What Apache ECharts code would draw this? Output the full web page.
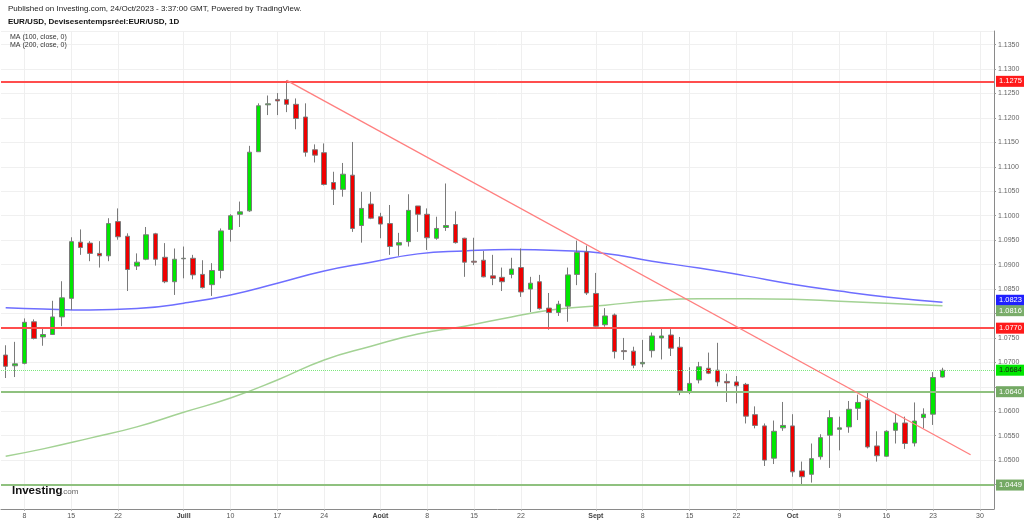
<!DOCTYPE html>
<html>
<head>
<meta charset="utf-8">
<title>EUR/USD 1D</title>
<script src="https://cdn.jsdelivr.net/npm/echarts@6/dist/echarts.min.js"></script>
<style>
  html, body { margin: 0; padding: 0; background: #fff; }
  #chart { width: 1024px; height: 526px; }
</style>
</head>
<body>
<div id="chart"></div>
<script>
// séances (jours ouvrés) + quelques jours vides à droite
const dates = [
  '2023-06-06','2023-06-07','2023-06-08','2023-06-09','2023-06-12','2023-06-13','2023-06-14','2023-06-15','2023-06-16',
  '2023-06-19','2023-06-20','2023-06-21','2023-06-22','2023-06-23','2023-06-26','2023-06-27','2023-06-28','2023-06-29','2023-06-30',
  '2023-07-03','2023-07-04','2023-07-05','2023-07-06','2023-07-07','2023-07-10','2023-07-11','2023-07-12','2023-07-13','2023-07-14',
  '2023-07-17','2023-07-18','2023-07-19','2023-07-20','2023-07-21','2023-07-24','2023-07-25','2023-07-26','2023-07-27','2023-07-28',
  '2023-07-31','2023-08-01','2023-08-02','2023-08-03','2023-08-04','2023-08-07','2023-08-08','2023-08-09','2023-08-10','2023-08-11',
  '2023-08-14','2023-08-15','2023-08-16','2023-08-17','2023-08-18','2023-08-21','2023-08-22','2023-08-23','2023-08-24','2023-08-25',
  '2023-08-28','2023-08-29','2023-08-30','2023-08-31','2023-09-01','2023-09-04','2023-09-05','2023-09-06','2023-09-07','2023-09-08',
  '2023-09-11','2023-09-12','2023-09-13','2023-09-14','2023-09-15','2023-09-18','2023-09-19','2023-09-20','2023-09-21','2023-09-22',
  '2023-09-25','2023-09-26','2023-09-27','2023-09-28','2023-09-29','2023-10-02','2023-10-03','2023-10-04','2023-10-05','2023-10-06',
  '2023-10-09','2023-10-10','2023-10-11','2023-10-12','2023-10-13','2023-10-16','2023-10-17','2023-10-18','2023-10-19','2023-10-20',
  '2023-10-23','2023-10-24'
];
const futureDates = ['2023-10-25','2023-10-26','2023-10-27','2023-10-30','2023-10-31'];

const opens = [
  1.0715,1.0693,1.0698,1.0783,1.0752,1.0757,1.0793,1.0831,1.0946,1.0944,1.0923,1.0918,1.0988,1.0958,1.0897,1.0911,1.0963,1.0915,1.0865,
  1.0912,1.0913,1.0880,1.0859,1.0888,1.0972,1.1003,1.1010,1.1131,1.1227,1.1238,1.1238,1.1228,1.1202,1.1135,1.1129,1.1068,1.1054,1.1083,1.0980,1.1024,
  1.0998,1.0984,1.0940,1.0947,1.1020,1.1003,1.0954,1.0976,1.0982,1.0954,1.0907,1.0909,1.0877,1.0874,1.0880,1.0894,1.0850,1.0865,1.0811,1.0802,1.0815,1.0880,1.0926,
  1.0841,1.0777,1.0797,1.0724,1.0723,1.0697,1.0724,1.0750,1.0756,1.0731,1.0640,1.0664,1.0688,1.0684,1.0661,1.0660,1.0655,1.0593,1.0570,1.0504,1.0566,
  1.0570,1.0478,1.0471,1.0507,1.0551,1.0563,1.0568,1.0606,1.0623,1.0529,1.0508,1.0561,1.0576,1.0535,1.0587,1.0594,1.0670
];
const closes = [
  1.0692,1.0697,1.0782,1.0749,1.0757,1.0793,1.0832,1.0947,1.0935,1.0923,1.0918,1.0984,1.0957,1.0890,1.0905,1.0961,1.0911,1.0865,1.0911,
  1.0913,1.0879,1.0853,1.0888,1.0969,1.1000,1.1008,1.1130,1.1225,1.1229,1.1235,1.1228,1.1199,1.1130,1.1124,1.1064,1.1054,1.1085,1.0974,1.1015,1.0995,
  1.0983,1.0937,1.0945,1.1011,1.1003,1.0955,1.0974,1.0980,1.0945,1.0905,1.0905,1.0875,1.0872,1.0865,1.0891,1.0844,1.0862,1.0810,1.0802,1.0819,1.0879,1.0925,1.0842,
  1.0774,1.0795,1.0722,1.0722,1.0694,1.0700,1.0754,1.0754,1.0729,1.0642,1.0657,1.0691,1.0678,1.0660,1.0658,1.0652,1.0590,1.0571,1.0500,1.0559,1.0571,
  1.0476,1.0466,1.0503,1.0546,1.0587,1.0566,1.0604,1.0618,1.0527,1.0509,1.0559,1.0576,1.0534,1.0580,1.0594,1.0669,1.0684
];
const lows = [
  1.0668,1.0670,1.0696,1.0747,1.0734,1.0756,1.0774,1.0807,1.0920,1.0907,1.0894,1.0907,1.0951,1.0846,1.0889,1.0909,1.0898,1.0862,1.0838,
  1.0872,1.0870,1.0851,1.0836,1.0872,1.0947,1.0977,1.1008,1.1131,1.1206,1.1206,1.1212,1.1177,1.1121,1.1109,1.1062,1.1022,1.1039,1.0967,1.0945,1.0993,
  1.0954,1.0920,1.0918,1.0937,1.0967,1.0930,1.0951,1.0969,1.0943,1.0875,1.0899,1.0874,1.0858,1.0846,1.0872,1.0834,1.0803,1.0808,1.0767,1.0795,1.0783,1.0858,1.0838,
  1.0773,1.0773,1.0708,1.0705,1.0688,1.0690,1.0710,1.0706,1.0713,1.0633,1.0635,1.0657,1.0676,1.0651,1.0619,1.0616,1.0575,1.0565,1.0488,1.0492,1.0560,
  1.0466,1.0451,1.0454,1.0501,1.0484,1.0520,1.0556,1.0582,1.0524,1.0497,1.0507,1.0534,1.0523,1.0528,1.0565,1.0572,1.0669
];
const highs = [
  1.0735,1.0742,1.0790,1.0788,1.0770,1.0826,1.0866,1.0956,1.0972,1.0948,1.0948,1.0995,1.1015,1.0964,1.0923,1.0977,1.0965,1.0944,1.0933,
  1.0937,1.0920,1.0909,1.0903,1.0974,1.1003,1.1029,1.1143,1.1230,1.1246,1.1251,1.1277,1.1240,1.1230,1.1146,1.1148,1.1090,1.1108,1.1151,1.1049,1.1049,
  1.1006,1.1022,1.0965,1.1044,1.1020,1.1015,1.0998,1.1066,1.1009,1.0955,1.0955,1.0928,1.0920,1.0894,1.0914,1.0933,1.0875,1.0879,1.0842,1.0826,1.0894,1.0949,1.0939,
  1.0883,1.0811,1.0800,1.0750,1.0732,1.0746,1.0761,1.0772,1.0768,1.0752,1.0690,1.0701,1.0720,1.0740,1.0677,1.0672,1.0658,1.0610,1.0575,1.0581,1.0619,
  1.0594,1.0497,1.0534,1.0553,1.0602,1.0589,1.0621,1.0634,1.0641,1.0559,1.0561,1.0595,1.0589,1.0618,1.0606,1.0680,1.0689
];

// moyennes mobiles relevées chaque semaine
const maDates = ['2023-06-06','2023-06-12','2023-06-19','2023-06-26','2023-07-03','2023-07-10','2023-07-17','2023-07-24','2023-07-31',
  '2023-08-07','2023-08-14','2023-08-21','2023-08-28','2023-09-04','2023-09-11','2023-09-18','2023-09-25','2023-10-02','2023-10-09',
  '2023-10-16','2023-10-24'];
const ma100 = [1.0812,1.0809,1.0807,1.0810,1.0821,1.0838,1.0862,1.0887,1.0905,1.0922,1.0928,1.0931,1.0929,1.0923,1.0907,
  1.0893,1.0877,1.0860,1.0846,1.0834,1.0823];
const ma200 = [1.0508,1.0523,1.0545,1.0568,1.0598,1.0627,1.0664,1.0705,1.0733,1.0758,1.0774,1.0793,1.0809,1.0817,1.0826,
  1.0830,1.0830,1.0829,1.0825,1.0821,1.0816];

// niveaux horizontaux et ligne de tendance
const redLevels = [1.1275, 1.0770];
const greenLevels = [1.0640, 1.0449];
const trendStart = ['2023-07-18', 1.1277];
const trendEnd = ['2023-10-27', 1.0511];

// étiquettes de l'axe du temps
const tickDates = ['2023-06-08','2023-06-15','2023-06-22','2023-07-03','2023-07-10','2023-07-17','2023-07-24','2023-08-01',
  '2023-08-08','2023-08-15','2023-08-22','2023-09-01','2023-09-08','2023-09-15','2023-09-22','2023-10-02','2023-10-09',
  '2023-10-16','2023-10-23','2023-10-30'];
const tickLabels = ['8','15','22','Juill','10','17','24','Août','8','15','22','Sept','8','15','22','Oct','9','16','23','30'];
const monthLabels = ['Juill','Août','Sept','Oct'];

const FONT = 'Arial, "Liberation Sans", sans-serif';
const chart = echarts.init(document.getElementById('chart'));

const allDates = dates.concat(futureDates);
const candles = dates.map((d, i) => [opens[i], closes[i], lows[i], highs[i]]);
const lastPrice = closes[closes.length - 1];
const isTick = (idx, val) => tickDates.indexOf(val) !== -1;

// les graduations cachées derrière une étiquette de niveau ne sont pas écrites
const boxedValues = redLevels.concat(greenLevels, [lastPrice, ma100[ma100.length - 1], ma200[ma200.length - 1]]);
const hiddenByBox = v => boxedValues.some(b => Math.abs(b - v) < 0.0013);

const boxLabel = (bg, fg, offsetY) => ({
  show: true,
  position: 'end',
  distance: 2,
  offset: [0, offsetY || 0],
  formatter: p => Number(p.value).toFixed(4),
  color: fg,
  backgroundColor: bg,
  fontFamily: FONT,
  fontSize: 7.5,
  padding: [2, 3, 1, 3]
});

const levelLines = [];
redLevels.forEach(v => levelLines.push({
  yAxis: v, lineStyle: { color: '#ff4d4d', width: 2, type: 'solid' }, label: boxLabel('#ff1a1a', '#fff')
}));
greenLevels.forEach(v => levelLines.push({
  yAxis: v, lineStyle: { color: '#8fc17f', width: 2, type: 'solid' }, label: boxLabel('#74a964', '#fff')
}));
levelLines.push({
  yAxis: lastPrice, lineStyle: { color: '#7de87d', width: 1, type: 'dotted' }, label: boxLabel('#00e600', '#1a1a1a')
});
levelLines.push({
  yAxis: ma100[ma100.length - 1], lineStyle: { color: 'transparent', width: 0 }, label: boxLabel('#2020ff', '#fff', -2)
});
levelLines.push({
  yAxis: ma200[ma200.length - 1], lineStyle: { color: 'transparent', width: 0 }, label: boxLabel('#7aad6a', '#fff', 5)
});
levelLines.push([
  { coord: trendStart, lineStyle: { color: '#ff7f7f', width: 1.3, type: 'solid' }, label: { show: false } },
  { coord: trendEnd }
]);

// lignes verticales de la grille, centrées sur les dates affichées
const gridLines = tickDates.map(d => ({ xAxis: d }));

const option = {
  animation: false,
  backgroundColor: '#fff',
  textStyle: { fontFamily: FONT },
  grid: { left: 1, right: 30, top: 31, bottom: 17 },
  graphic: [
    { type: 'text', left: 8, top: 5, z: 10, style: { text: 'Published on Investing.com, 24/Oct/2023 - 3:37:00 GMT, Powered by TradingView.', font: '8px ' + FONT, fill: '#222' } },
    { type: 'text', left: 8, top: 18, z: 10, style: { text: 'EUR/USD, Devisesentempsréel:EUR/USD, 1D', font: 'bold 8px ' + FONT, fill: '#111' } },
    { type: 'text', left: 10, top: 34, z: 10, style: { text: 'MA (100, close, 0)', font: '7px ' + FONT, fill: '#333' } },
    { type: 'text', left: 10, top: 41.5, z: 10, style: { text: 'MA (200, close, 0)', font: '7px ' + FONT, fill: '#333' } },
    { type: 'text', left: 12, top: 485, z: 10, style: { text: 'Investing', font: 'bold 11.5px ' + FONT, fill: '#111' } },
    { type: 'text', left: 61, top: 488, z: 10, style: { text: '.com', font: '8px ' + FONT, fill: '#666' } }
  ],
  xAxis: {
    type: 'category',
    data: allDates,
    boundaryGap: true,
    axisLine: { lineStyle: { color: '#8a8a8a', width: 1 } },
    axisTick: { show: true, interval: isTick, alignWithLabel: true, length: 2, lineStyle: { color: '#aaa' } },
    axisLabel: {
      interval: isTick,
      margin: 4,
      fontSize: 7,
      color: '#555',
      formatter: v => {
        const k = tickDates.indexOf(v);
        if (k === -1) return '';
        const t = tickLabels[k];
        return monthLabels.indexOf(t) !== -1 ? '{m|' + t + '}' : t;
      },
      rich: { m: { fontSize: 7, fontWeight: 'bold', color: '#444' } }
    },
    splitLine: { show: false }
  },
  yAxis: {
    type: 'value',
    position: 'right',
    min: 1.04,
    max: 1.1378,
    interval: 0.005,
    axisLine: { show: true, lineStyle: { color: '#8a8a8a', width: 1 } },
    axisTick: { show: true, length: 2, lineStyle: { color: '#999' } },
    axisLabel: {
      margin: 4,
      fontSize: 7,
      color: '#666',
      showMaxLabel: false,
      showMinLabel: false,
      formatter: v => (hiddenByBox(v) ? '' : v.toFixed(4))
    },
    splitLine: { show: true, lineStyle: { color: '#f0f0f0', width: 1 } }
  },
  series: [
    {
      name: 'MA 100',
      type: 'line',
      data: maDates.map((d, i) => [d, ma100[i]]),
      smooth: true,
      showSymbol: false,
      lineStyle: { color: '#6e6eff', width: 1.5 },
      z: 1,
      markLine: {
        silent: true,
        symbol: ['none', 'none'],
        label: { show: false },
        lineStyle: { color: '#efefef', width: 1, type: 'solid' },
        data: gridLines,
        z: 0
      }
    },
    {
      name: 'MA 200',
      type: 'line',
      data: maDates.map((d, i) => [d, ma200[i]]),
      smooth: true,
      showSymbol: false,
      lineStyle: { color: '#a3d294', width: 1.5 },
      z: 1
    },
    {
      name: 'EUR/USD',
      type: 'candlestick',
      data: candles,
      barWidth: 5,
      itemStyle: {
        color: '#00e600',
        color0: '#ee0000',
        borderColor: '#7a7a7a',
        borderColor0: '#7a7a7a',
        borderWidth: 1
      },
      z: 3,
      markLine: {
        silent: true,
        precision: 4,
        symbol: ['none', 'none'],
        animation: false,
        data: levelLines
      }
    }
  ]
};

chart.setOption(option);
</script>
</body>
</html>
